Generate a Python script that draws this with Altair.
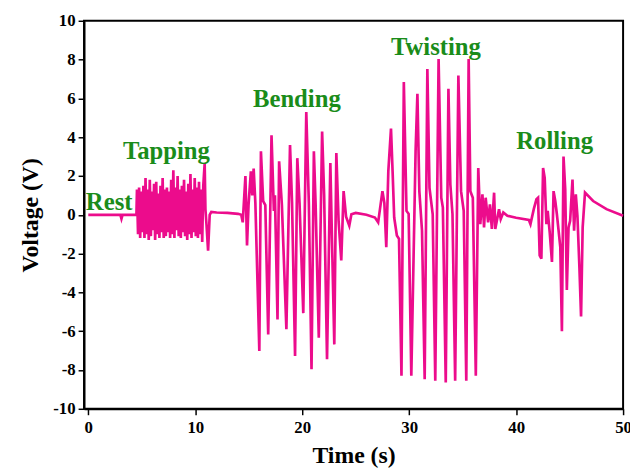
import altair as alt
import pandas as pd

# Time (s) and voltage (V)
rest_t = [0.0, 1.5, 3.0, 3.1, 3.2, 4.45]
rest_v = [0.0, 0.0, 0.0, -0.2, 0.0, 0.0]

tap_t = [4.50, 4.55, 4.65, 4.75, 4.85, 4.95, 5.05, 5.15, 5.25, 5.35, 5.45, 5.55, 5.65, 5.75,
         5.85, 5.95, 6.05, 6.15, 6.25, 6.35, 6.45, 6.55, 6.65, 6.75, 6.85, 6.95, 7.05, 7.15,
         7.25, 7.35, 7.45, 7.55, 7.65, 7.75, 7.85, 7.95, 8.05, 8.15, 8.25, 8.35, 8.45, 8.55,
         8.65, 8.75, 8.85, 8.95, 9.05, 9.15, 9.25, 9.35, 9.45, 9.55, 9.65, 9.75, 9.85, 9.95,
         10.05, 10.15, 10.25, 10.35, 10.45, 10.55, 10.65, 10.75, 10.88, 10.95, 11.05, 11.2,
         11.35, 11.5, 12.0, 13.0, 14.0, 14.3]
tap_v = [0.0, 1.3, -1.0, 1.4, -1.2, 1.2, -0.9, 1.5, -1.2, 1.9, -1.0, 1.3, -1.3, 1.8,
         -1.1, 1.2, -0.8, 1.6, -1.3, 1.7, -1.0, 1.1, -1.2, 1.5, -0.9, 1.9, -1.2, 1.3,
         -1.1, 1.4, -0.9, 1.2, -1.2, 1.8, -1.0, 2.3, -1.2, 1.4, -0.8, 2.0, -1.1, 1.3,
         -1.2, 1.5, -0.9, 1.8, -1.1, 1.2, -1.3, 1.6, -1.0, 2.1, -1.2, 1.3, -0.9, 1.9,
         -1.1, 1.4, -1.2, 1.7, -1.0, 1.3, -1.4, 1.5, 2.65, 0.3, -0.5, -1.85,
         0.0, 0.15, 0.12, 0.1, 0.05, 0.0]

bend_t = [14.44, 14.69, 14.84, 14.98, 15.2, 15.33, 15.46, 15.62, 15.99, 16.14, 16.35, 16.55,
          16.82, 17.13, 17.35, 17.45, 17.69, 17.84, 18.1, 18.52, 18.86, 19.05, 19.33, 19.54,
          19.75, 20.1, 20.38, 20.62, 20.87, 21.09, 21.25, 21.55, 21.86, 22.05, 22.32, 22.63,
          22.78, 23.0, 23.19, 23.4, 23.65, 23.87, 24.1, 24.4, 24.6, 25.0, 26.0, 26.8]
bend_v = [-0.39, 2.0, -1.58, 0.5, 2.24, 1.0, 2.38, 0.6, -7.02, 3.27, 0.7, 0.5,
          -6.17, 4.1, 0.2, 1.0, -5.4, 2.76, 0.5, -5.9, 3.6, 0.6, -7.28, 2.92,
          0.6, -5.07, 5.3, 0.6, -7.96, 3.27, 0.6, -6.34, 4.29, 1.0, -7.45, 2.67,
          -1.2, -6.68, 3.18, -0.3, -2.35, 1.22, -0.1, -0.56, 0.03, 0.1, 0.0, -0.14]

twist_t = [27.1, 27.5, 27.68, 27.86, 28.05, 28.3, 28.45, 28.6, 28.85, 29.05, 29.28, 29.5,
           29.75, 29.95, 30.2, 30.6, 30.77, 30.95, 31.2, 31.45, 31.7, 31.9, 32.2, 32.44,
           32.75, 33.0, 33.15, 33.42, 33.67, 33.85, 34.05, 34.3, 34.6, 34.85, 35.1, 35.34,
           35.56, 35.72, 35.95, 36.23, 36.46, 36.65, 36.85, 37.0, 37.15, 37.38, 37.55, 37.73,
           37.94, 38.05, 38.4, 38.56, 38.8, 39.18, 40.0]
twist_v = [-0.39, 1.22, 0.6, -1.67, 2.24, 4.45, 2.24, -0.14, -1.07, -1.24, -8.3, 6.84,
           0.2, 0.05, -8.3, 3.27, 6.24, 1.22, -0.82, -8.47, 7.51, 1.39, 0.03, -8.55,
           8.03, 0.88, 0.37, -8.64, 6.5, 1.56, 0.03, -8.55, 7.18, 1.22, 0.2, -8.55,
           8.03, 1.22, 0.88, -8.3, 2.41, -0.48, 1.05, -0.65, 0.88, -0.39, 0.54, -0.73,
           1.14, -0.73, 0.29, -0.22, 0.12, -0.05, -0.15]

roll_t = [41.19, 41.34, 41.65, 41.9, 42.05, 42.2, 42.36, 42.52, 42.67, 42.83, 42.95, 43.14,
          43.35, 43.5, 43.66, 43.81, 43.97, 44.13, 44.28, 44.43, 44.59, 44.74, 44.9, 45.05,
          45.27, 45.42, 45.58, 45.73, 45.92, 46.07, 46.22, 46.44, 47.2, 48.45, 50.0]
roll_v = [-0.27, -0.48, 0.29, 0.8, 0.88, -2.09, -2.26, 2.41, 1.9, -0.48, 0.2, -0.9,
          -2.43, 1.22, 0.71, 0.03, -0.82, -1.67, -6.0, 3.0, 1.31, -3.88, -0.65, -0.31,
          1.82, -0.82, 1.05, -0.05, -2.77, -5.24, -0.65, 1.14, 0.71, 0.29, -0.05]

label_text = ["Rest", "Tapping", "Bending", "Twisting", "Rolling"]
label_t = [1.95, 7.3, 19.5, 32.5, 43.6]
label_v = [0.66, 3.27, 5.97, 8.62, 3.78]

x_ticks = [0, 10, 20, 30, 40, 50]
y_ticks = [-10, -8, -6, -4, -2, 0, 2, 4, 6, 8, 10]

times = rest_t + tap_t + bend_t + twist_t + roll_t
volts = rest_v + tap_v + bend_v + twist_v + roll_v
signal = pd.DataFrame({"t": times, "v": volts, "i": list(range(len(times)))})
labels = pd.DataFrame({"label": label_text, "t": label_t, "v": label_v})

FONT = "Liberation Serif"
LABEL_EXPR = "datum.value < 0 ? '-' + abs(datum.value) : '' + datum.value"

x_axis = alt.Axis(title="Time (s)", values=x_ticks, grid=False,
                  labelFont=FONT, labelFontSize=17, labelFontWeight="bold",
                  labelColor="black", titleFont=FONT, titleFontSize=24,
                  titleFontWeight="bold", titleColor="black", titlePadding=8,
                  tickSize=6, tickWidth=1.5, tickColor="black",
                  domainColor="black", domainWidth=2, labelPadding=5,
                  labelFlush=False, labelOverlap=False)
y_axis = alt.Axis(title="Voltage (V)", values=y_ticks, grid=False, tickCount=11,
                  labelFont=FONT, labelFontSize=17, labelFontWeight="bold",
                  labelColor="black", titleFont=FONT, titleFontSize=24,
                  titleFontWeight="bold", titleColor="black", titlePadding=10,
                  tickSize=6, tickWidth=1.5, tickColor="black",
                  domainColor="black", domainWidth=2, labelPadding=3,
                  labelOverlap=False, labelExpr=LABEL_EXPR)

x_scale = alt.Scale(domain=[-0.4, 50], nice=False, zero=False)
y_scale = alt.Scale(domain=[-10, 10], nice=False)

line = alt.Chart(signal).mark_line(color="#ec0c8c", strokeWidth=2.7).encode(
    x=alt.X("t:Q", scale=x_scale, axis=x_axis),
    y=alt.Y("v:Q", scale=y_scale, axis=y_axis),
    order="i:Q")

text = alt.Chart(labels).mark_text(font=FONT, fontSize=25, fontWeight="bold",
                                   color="#1a8c1a").encode(
    x=alt.X("t:Q", scale=x_scale, axis=x_axis),
    y=alt.Y("v:Q", scale=y_scale, axis=y_axis),
    text="label:N")

chart = alt.layer(line, text).properties(
    width=546, height=393,
    autosize=alt.AutoSizeParams(type="none"),
    padding={"left": 77, "top": 10, "right": 7, "bottom": 57},
).configure_view(stroke="black", strokeWidth=2)

chart.save("out.html", embed_options={"renderer": "svg", "actions": False})
